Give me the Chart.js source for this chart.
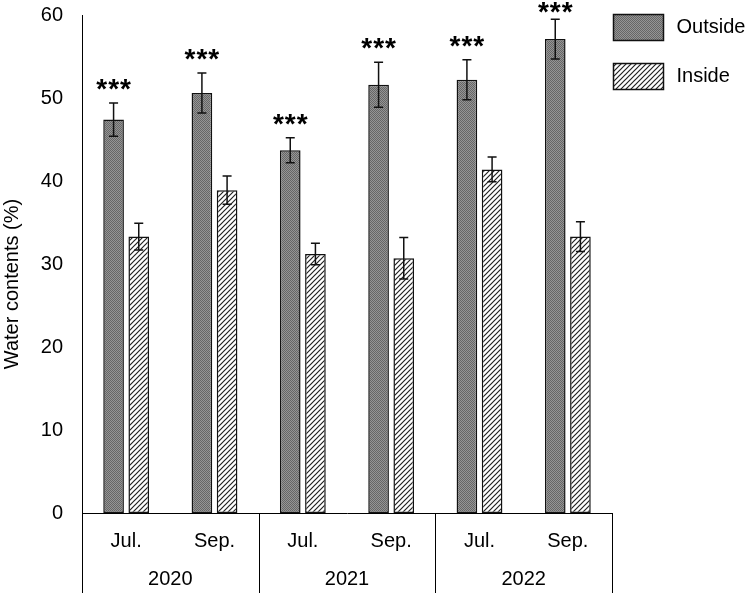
<!DOCTYPE html>
<html>
<head>
<meta charset="utf-8">
<script src="https://cdn.jsdelivr.net/npm/chart.js@4/dist/chart.umd.min.js"></script>
<style>
  html, body { margin: 0; padding: 0; background: #fff; }
  #wrap { width: 750px; height: 593px; }
</style>
</head>
<body>
<div id="wrap"><canvas id="waterChart" width="750" height="593"></canvas></div>
<script>
// dados
const months = ['Jul.', 'Sep.', 'Jul.', 'Sep.', 'Jul.', 'Sep.'];
const years = ['2020', '2021', '2022'];
const outsideValues = [47.4, 50.6, 43.7, 51.6, 52.2, 57.1];
const outsideErrors = [2.0, 2.4, 1.5, 2.7, 2.4, 2.4];
const insideValues = [33.3, 38.9, 31.2, 30.7, 41.4, 33.3];
const insideErrors = [1.6, 1.7, 1.3, 2.5, 1.5, 1.8];
const outsideMarks = ['***', '***', '***', '***', '***', '***'];
const yTicks = [0, 10, 20, 30, 40, 50, 60];
const yTitle = 'Water contents (%)';

const FONT = '"Liberation Sans", Arial, sans-serif';

// padrão pontilhado cinza (Outside)
function makeDotPattern() {
  const c = document.createElement('canvas');
  c.width = 2; c.height = 2;
  const g = c.getContext('2d');
  g.fillStyle = '#959595';
  g.fillRect(0, 0, 2, 2);
  g.fillStyle = '#666';
  g.fillRect(0, 0, 1, 1);
  g.fillRect(1, 1, 1, 1);
  return g.createPattern(c, 'repeat');
}

// padrão hachurado diagonal (Inside)
function makeHatchPattern() {
  const s = 5;
  const c = document.createElement('canvas');
  c.width = s; c.height = s;
  const g = c.getContext('2d');
  g.fillStyle = '#fff';
  g.fillRect(0, 0, s, s);
  g.strokeStyle = '#222';
  g.lineWidth = 1.2;
  g.beginPath();
  g.moveTo(-1, 1); g.lineTo(1, -1);
  g.moveTo(0, s); g.lineTo(s, 0);
  g.moveTo(s - 1, s + 1); g.lineTo(s + 1, s - 1);
  g.stroke();
  return g.createPattern(c, 'repeat');
}

const outsideFill = makeDotPattern();
const insideFill = makeHatchPattern();

// barras de erro + asteriscos
const errorBarPlugin = {
  id: 'errorBars',
  afterDatasetsDraw(chart) {
    const ctx = chart.ctx;
    const y = chart.scales.y;
    ctx.save();
    ctx.strokeStyle = '#111';
    ctx.lineWidth = 1.5;
    chart.data.datasets.forEach((ds, di) => {
      const meta = chart.getDatasetMeta(di);
      meta.data.forEach((bar, i) => {
        const v = ds.data[i];
        const e = ds.errors[i];
        const top = y.getPixelForValue(v + e);
        const bot = y.getPixelForValue(v - e);
        const cap = 4.5;
        ctx.beginPath();
        ctx.moveTo(bar.x, top); ctx.lineTo(bar.x, bot);
        ctx.moveTo(bar.x - cap, top); ctx.lineTo(bar.x + cap, top);
        ctx.moveTo(bar.x - cap, bot); ctx.lineTo(bar.x + cap, bot);
        ctx.stroke();
        if (ds.marks && ds.marks[i]) {
          ctx.fillStyle = '#000';
          ctx.font = 'bold 28px ' + FONT;
          ctx.letterSpacing = '1px';
          ctx.textAlign = 'center';
          ctx.textBaseline = 'alphabetic';
          ctx.fillText(ds.marks[i], bar.x + 0.5, Math.max(top - 5, 21));
          ctx.letterSpacing = '0px';
        }
      });
    });
    ctx.restore();
  }
};

// título do eixo y, linhas separadoras dos anos + legenda à direita
const groupAxisPlugin = {
  id: 'groupAxis',
  afterDraw(chart) {
    const ctx = chart.ctx;
    const x2 = chart.scales.x2;
    const area = chart.chartArea;
    ctx.save();
    ctx.strokeStyle = '#000';
    ctx.lineWidth = 1;
    for (let i = 0; i <= years.length; i++) {
      const px = Math.round(x2.left + i * x2.width / years.length) + 0.5;
      ctx.beginPath();
      ctx.moveTo(px, area.bottom);
      ctx.lineTo(px, chart.height);
      ctx.stroke();
    }

    // título do eixo y (um pouco abaixo do centro, como no original)
    ctx.save();
    ctx.translate(12, (area.top + area.bottom) / 2 + 20);
    ctx.rotate(-Math.PI / 2);
    ctx.font = '20px ' + FONT;
    ctx.fillStyle = '#000';
    ctx.textAlign = 'center';
    ctx.textBaseline = 'middle';
    ctx.fillText(yTitle, 0, 0);
    ctx.restore();

    // legenda
    const items = chart.data.datasets;
    ctx.font = '20px ' + FONT;
    ctx.textAlign = 'left';
    ctx.textBaseline = 'middle';
    items.forEach((ds, i) => {
      const bx = area.right + 1.5;
      const by = 14.5 + i * 49;
      ctx.fillStyle = ds.backgroundColor;
      ctx.fillRect(bx, by, 50, 26);
      ctx.lineWidth = 1.5;
      ctx.strokeStyle = '#111';
      ctx.strokeRect(bx, by, 50, 26);
      ctx.fillStyle = '#000';
      ctx.fillText(ds.label, bx + 63, by + 13);
    });
    ctx.restore();
  }
};

const ctx = document.getElementById('waterChart').getContext('2d');

new Chart(ctx, {
  type: 'bar',
  data: {
    labels: months,
    datasets: [
      {
        label: 'Outside',
        data: outsideValues,
        errors: outsideErrors,
        marks: outsideMarks,
        backgroundColor: outsideFill,
        borderColor: '#111',
        borderWidth: 1.5,
        borderSkipped: false
      },
      {
        label: 'Inside',
        data: insideValues,
        errors: insideErrors,
        backgroundColor: insideFill,
        borderColor: '#111',
        borderWidth: 1.5,
        borderSkipped: false
      }
    ]
  },
  options: {
    responsive: false,
    animation: false,
    layout: { padding: { top: 0, right: 138, left: 0, bottom: 0 } },
    datasets: {
      bar: { categoryPercentage: 0.57, barPercentage: 0.82 }
    },
    plugins: {
      legend: { display: false },
      tooltip: { enabled: false }
    },
    scales: {
      x: {
        type: 'category',
        position: 'bottom',
        weight: 0,
        grid: { display: false, drawTicks: false },
        border: { display: true, color: '#000', width: 1 },
        ticks: { color: '#000', font: { family: FONT, size: 20 }, padding: 16, maxRotation: 0 },
        afterFit(scale) { scale.height = 45; scale.paddingLeft = 0; scale.paddingRight = 0; }
      },
      x2: {
        type: 'category',
        position: 'bottom',
        weight: 1,
        labels: years,
        offset: true,
        grid: { display: false, drawTicks: false },
        border: { display: false },
        ticks: { color: '#000', font: { family: FONT, size: 20 }, padding: 9, maxRotation: 0 },
        afterFit(scale) { scale.height = 35; scale.paddingLeft = 0; scale.paddingRight = 0; }
      },
      y: {
        min: 0,
        max: 60,
        afterBuildTicks(scale) { scale.ticks = yTicks.map(v => ({ value: v })); },
        grid: { display: false, drawTicks: false },
        border: { display: true, color: '#000', width: 1 },
        ticks: { color: '#000', font: { family: FONT, size: 20 }, padding: 19 },
        title: { display: false },
        afterFit(scale) { scale.width = 82; scale.paddingTop = 15; scale.paddingBottom = 0; }
      }
    }
  },
  plugins: [errorBarPlugin, groupAxisPlugin]
});
</script>
</body>
</html>
